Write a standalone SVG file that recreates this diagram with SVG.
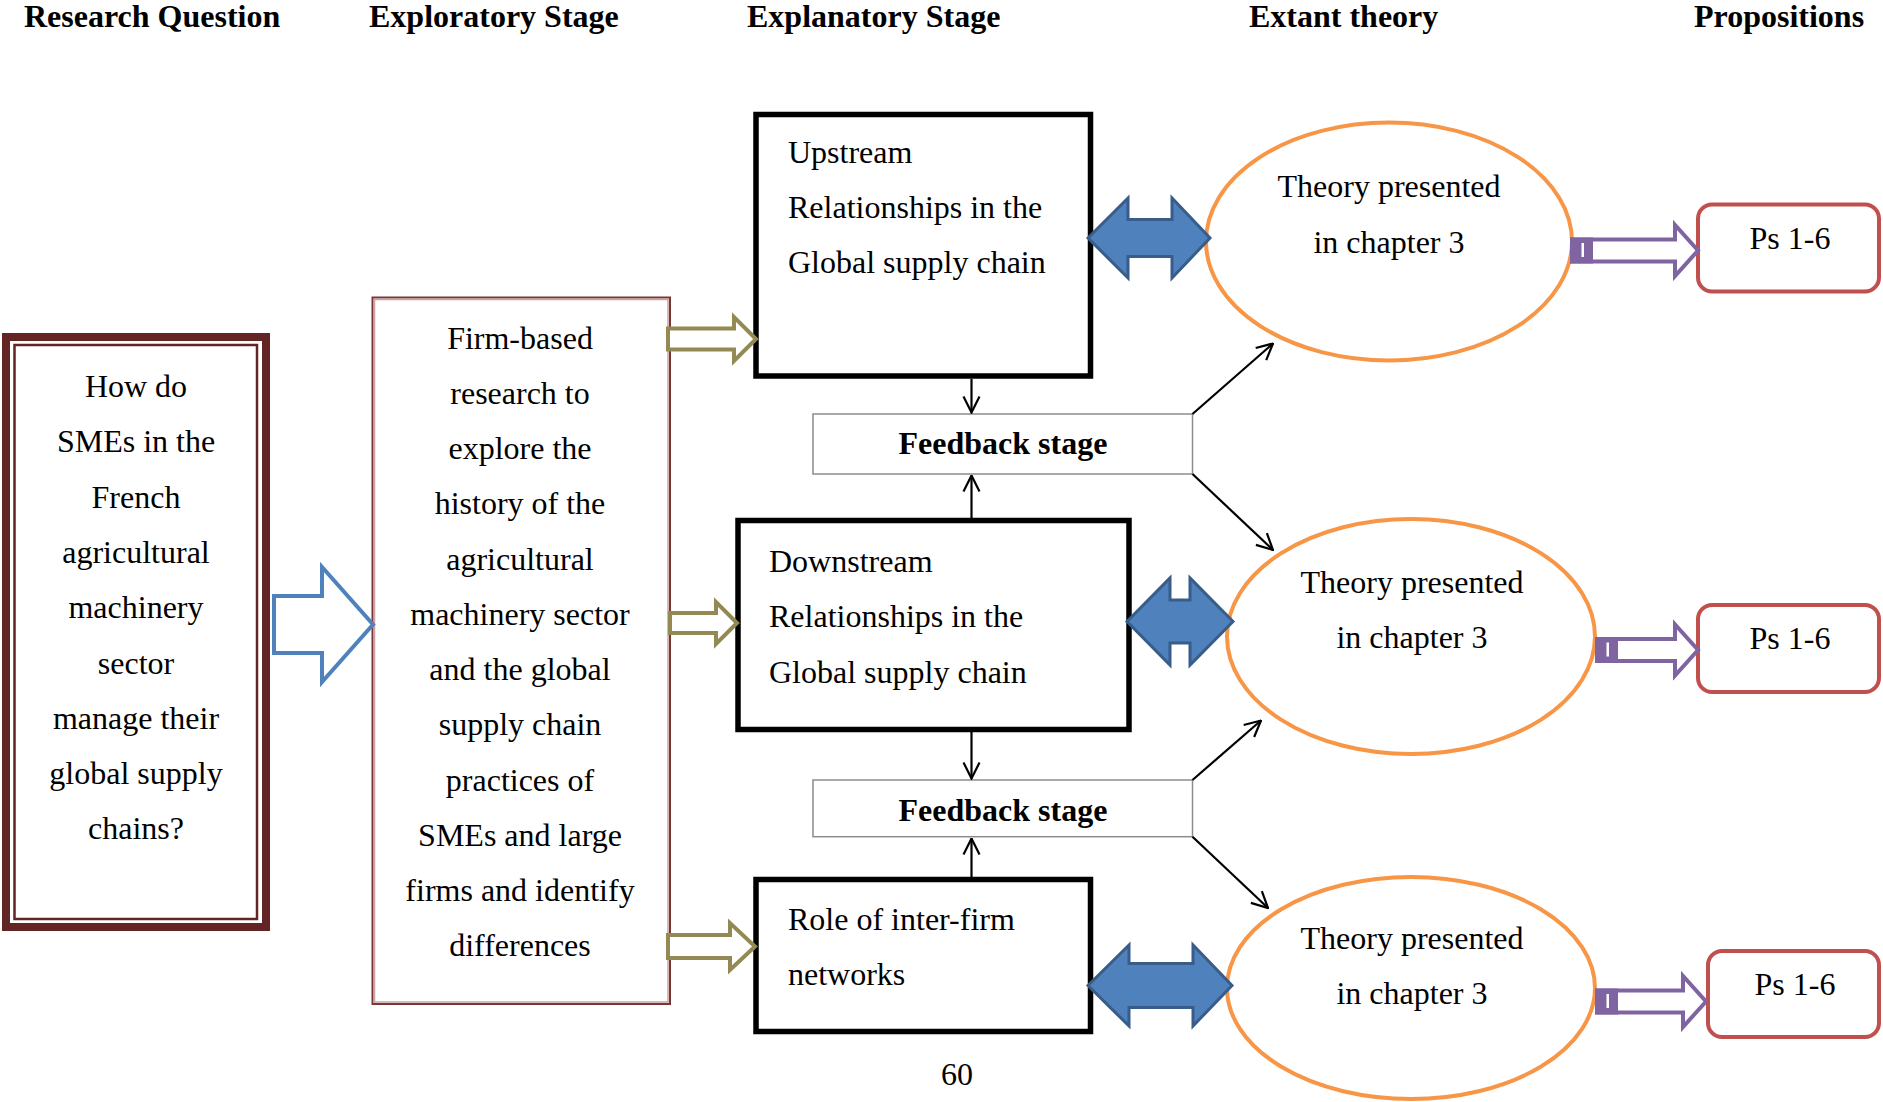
<svg xmlns="http://www.w3.org/2000/svg" width="1883" height="1102" viewBox="0 0 1883 1102">
<style>
text{font-family:"Liberation Serif","Times New Roman",serif;font-size:32px;fill:#000}
.h{font-weight:bold}
.c{text-anchor:middle}
.box{fill:#fff;stroke:#000;stroke-width:5.5}
.fb{fill:#fff;stroke:#8c8c8c;stroke-width:1.5}
.ell{fill:#fff;stroke:#f79646;stroke-width:4}
.ps{fill:#fff;stroke:#c0504d;stroke-width:4}
.dbl{fill:#4f81bd;stroke:#385d8a;stroke-width:3;stroke-linejoin:miter}
.olv{fill:#fff;stroke:#938953;stroke-width:4;stroke-linejoin:miter}
.pur{fill:#fff;stroke:#8064a2;stroke-width:4;stroke-linejoin:miter}
.ln{fill:none;stroke:#000;stroke-width:2.2}
</style>
<defs>
<marker id="v" viewBox="0 0 20 20" refX="19" refY="10" markerWidth="20" markerHeight="20" markerUnits="userSpaceOnUse" orient="auto">
<path d="M3,2 L19,10 L3,18" fill="none" stroke="#000" stroke-width="2.2"/>
</marker>
</defs>
<rect width="1883" height="1102" fill="#fff"/>

<g id="headers">
<text class="h" x="24" y="27">Research Question</text>
<text class="h" x="369" y="27">Exploratory Stage</text>
<text class="h" x="747" y="27">Explanatory Stage</text>
<text class="h" x="1249" y="27">Extant theory</text>
<text class="h" x="1694" y="27">Propositions</text>
</g>

<g id="research-question">
<rect x="6" y="337" width="260" height="590" fill="#fff" stroke="#632523" stroke-width="8"/>
<rect x="14.5" y="345" width="242.5" height="574" fill="none" stroke="#632523" stroke-width="2.5"/>
<text class="c" x="136" y="397">How do</text>
<text class="c" x="136" y="452.3">SMEs in the</text>
<text class="c" x="136" y="507.6">French</text>
<text class="c" x="136" y="562.9">agricultural</text>
<text class="c" x="136" y="618.2">machinery</text>
<text class="c" x="136" y="673.5">sector</text>
<text class="c" x="136" y="728.8">manage their</text>
<text class="c" x="136" y="784.1">global supply</text>
<text class="c" x="136" y="839.4">chains?</text>
</g>

<g id="exploratory">
<rect x="372.5" y="297.5" width="297.5" height="706.5" fill="#fff" stroke="#7a3634" stroke-width="2"/>
<rect x="374.5" y="299.5" width="293.5" height="702.5" fill="none" stroke="#c9a2a1" stroke-width="1.5"/>
<text class="c" x="520" y="348.5">Firm-based</text>
<text class="c" x="520" y="403.75">research to</text>
<text class="c" x="520" y="459">explore the</text>
<text class="c" x="520" y="514.25">history of the</text>
<text class="c" x="520" y="569.5">agricultural</text>
<text class="c" x="520" y="624.75">machinery sector</text>
<text class="c" x="520" y="680">and the global</text>
<text class="c" x="520" y="735.25">supply chain</text>
<text class="c" x="520" y="790.5">practices of</text>
<text class="c" x="520" y="845.75">SMEs and large</text>
<text class="c" x="520" y="901">firms and identify</text>
<text class="c" x="520" y="956.25">differences</text>
</g>

<g id="upstream">
<rect class="box" x="756" y="114.5" width="334.5" height="261.5"/>
<text x="788" y="162.5">Upstream</text>
<text x="788" y="217.8">Relationships in the</text>
<text x="788" y="273">Global supply chain</text>
</g>

<g id="feedback1">
<rect class="fb" x="813" y="414" width="379.5" height="60"/>
<text class="h c" x="1003" y="454">Feedback stage</text>
</g>

<g id="downstream">
<rect class="box" x="738" y="520.5" width="391" height="209"/>
<text x="769" y="572">Downstream</text>
<text x="769" y="627">Relationships in the</text>
<text x="769" y="682.5">Global supply chain</text>
</g>

<g id="feedback2">
<rect class="fb" x="813" y="780" width="379.5" height="56.7"/>
<text class="h c" x="1003" y="821">Feedback stage</text>
</g>

<g id="networks">
<rect class="box" x="756" y="879.5" width="334.5" height="152"/>
<text x="788" y="930">Role of inter-firm</text>
<text x="788" y="985">networks</text>
</g>

<g id="theory1">
<ellipse class="ell" cx="1389" cy="241.5" rx="183" ry="119"/>
<text class="c" x="1389" y="197">Theory presented</text>
<text class="c" x="1389" y="252.6">in chapter 3</text>
</g>
<g id="theory2">
<ellipse class="ell" cx="1411" cy="636.5" rx="184" ry="117.5"/>
<text class="c" x="1412" y="592.5">Theory presented</text>
<text class="c" x="1412" y="647.7">in chapter 3</text>
</g>
<g id="theory3">
<ellipse class="ell" cx="1411" cy="988" rx="184" ry="111"/>
<text class="c" x="1412" y="949">Theory presented</text>
<text class="c" x="1412" y="1004">in chapter 3</text>
</g>

<g id="ps1">
<rect class="ps" x="1698" y="204.5" width="181" height="87" rx="14"/>
<text class="c" x="1790" y="249">Ps 1-6</text>
</g>
<g id="ps2">
<rect class="ps" x="1698" y="605" width="181" height="87" rx="14"/>
<text class="c" x="1790" y="649">Ps 1-6</text>
</g>
<g id="ps3">
<rect class="ps" x="1708" y="951" width="171" height="86" rx="14"/>
<text class="c" x="1795" y="995">Ps 1-6</text>
</g>

<g id="connectors">
<path d="M274,596 L322,596 L322,567 L373,624.5 L322,682 L322,653 L274,653 Z" fill="#fff" stroke="#4f81bd" stroke-width="4"/>
<path class="olv" d="M668,328.5 L734,328.5 L734,317 L756,339 L734,361 L734,349.5 L668,349.5 Z"/>
<path class="olv" d="M670,613 L716,613 L716,602 L737,623 L716,644 L716,633 L670,633 Z"/>
<path class="olv" d="M668,935 L730,935 L730,923 L755,946.5 L730,970 L730,958 L668,958 Z"/>
<path class="dbl" d="M1088,238 L1128,198 L1128,219.5 L1172,219.5 L1172,198 L1210,238 L1172,278 L1172,256.5 L1128,256.5 L1128,278 Z"/>
<path class="dbl" d="M1127,621.5 L1170,578 L1170,600 L1190,600 L1190,578 L1233,621.5 L1190,665 L1190,643 L1170,643 L1170,665 Z"/>
<path class="dbl" d="M1088,985.5 L1129,945 L1129,963.5 L1193,963.5 L1193,945 L1232,985.5 L1193,1026 L1193,1007.5 L1129,1007.5 L1129,1026 Z"/>
<path class="pur" d="M1572,239.5 L1675,239.5 L1675,225 L1698,250.5 L1675,276 L1675,261.5 L1572,261.5 Z"/>
<rect x="1570" y="237.5" width="23" height="26" fill="#8064a2"/>
<rect x="1581.5" y="243" width="2.5" height="14" fill="#fff"/>
<path class="pur" d="M1597,639 L1675,639 L1675,624.5 L1698,650 L1675,675.5 L1675,661 L1597,661 Z"/>
<rect x="1595" y="637" width="23" height="26" fill="#8064a2"/>
<rect x="1606.5" y="642.5" width="2.5" height="14" fill="#fff"/>
<path class="pur" d="M1597,990.5 L1683,990.5 L1683,976 L1706,1001.5 L1683,1027 L1683,1012.5 L1597,1012.5 Z"/>
<rect x="1595" y="988.5" width="23" height="26" fill="#8064a2"/>
<rect x="1606.5" y="994" width="2.5" height="14" fill="#fff"/>
<line class="ln" x1="971.5" y1="379" x2="971.5" y2="412.5" marker-end="url(#v)"/>
<line class="ln" x1="971.5" y1="518" x2="971.5" y2="475.5" marker-end="url(#v)"/>
<line class="ln" x1="971.5" y1="732" x2="971.5" y2="778.5" marker-end="url(#v)"/>
<line class="ln" x1="971.5" y1="877" x2="971.5" y2="838.5" marker-end="url(#v)"/>
<line class="ln" x1="1192.5" y1="414" x2="1273" y2="343.5" marker-end="url(#v)"/>
<line class="ln" x1="1192.5" y1="474" x2="1273" y2="550" marker-end="url(#v)"/>
<line class="ln" x1="1192.5" y1="780" x2="1261" y2="720.5" marker-end="url(#v)"/>
<line class="ln" x1="1192.5" y1="836.7" x2="1268" y2="908" marker-end="url(#v)"/>
</g>

<g id="page-number">
<text class="c" x="957" y="1085">60</text>
</g>
</svg>
